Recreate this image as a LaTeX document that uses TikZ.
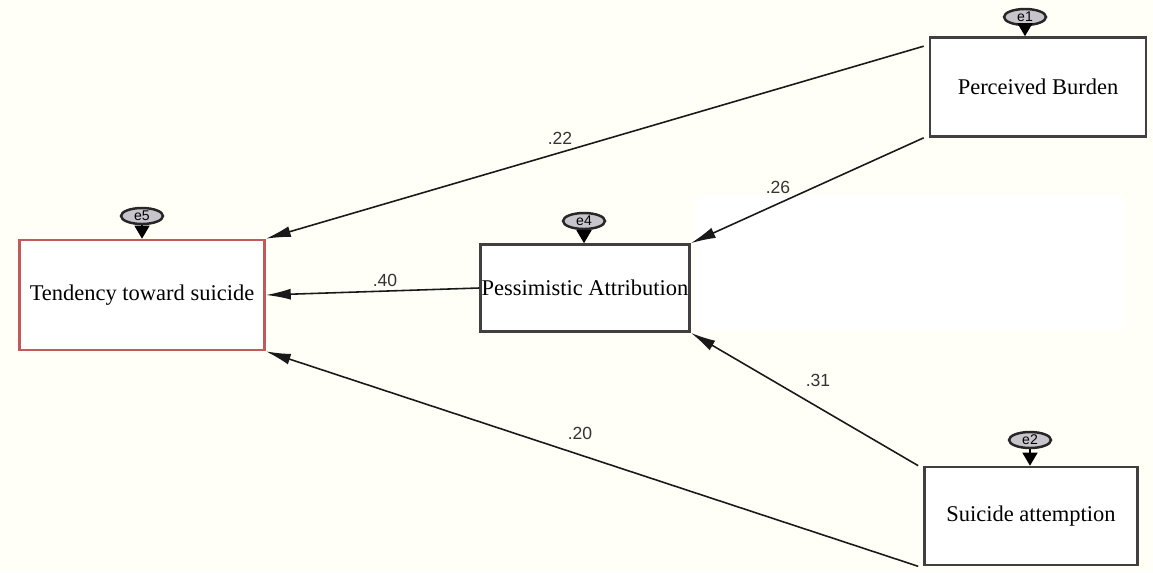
\documentclass[tikz,border=0pt]{standalone}
\usepackage{fontspec}
\setmainfont{Liberation Serif}
\newfontfamily\coeffont{Liberation Sans}
\usetikzlibrary{arrows.meta,positioning,shapes.geometric}
\definecolor{paper}{HTML}{FFFFF7}
\definecolor{errgray}{HTML}{C8C4CC}
\definecolor{outred}{HTML}{C25A5A}

\begin{document}
\begin{tikzpicture}[
  x=0.02cm, y=-0.02cm,
  var/.style={rectangle, draw=black!75, line width=1.5pt, fill=white, inner sep=0pt, font=\fontsize{12.8}{15}\selectfont},
  err/.style={ellipse, draw=black!85, line width=1.4pt, fill=errgray, minimum width=0.84cm, minimum height=0.32cm, inner sep=0pt, font=\coeffont\fontsize{8}{8}\selectfont},
  path/.style={-{Latex[length=0.5cm,width=0.22cm]}, line width=0.9pt, draw=black!90},
  errarrow/.style={-{Triangle[length=0.26cm,width=0.3cm]}, line width=0.8pt},
  coef/.style={font=\coeffont\fontsize{10}{12}\selectfont, text=black!80}
]
% background
\fill[paper] (0,0) rectangle (1153,572);
\fill[white] (695,195) rectangle (1125,330);
\useasboundingbox (0,0) rectangle (1153,572);

% observed variables
\node[var, minimum width=4.32cm, minimum height=1.98cm] (pb) at (1038,87) {Perceived Burden};
\node[var, draw=outred, minimum width=4.9cm, minimum height=2.2cm] (tend) at (142,295) {Tendency toward suicide};
\node[var, minimum width=4.18cm, minimum height=1.74cm] (pes) at (585,288) {Pessimistic Attribution};
\node[var, minimum width=4.26cm, minimum height=1.96cm] (sa) at (1031,516) {Suicide attemption};

% error terms
\node[err] (e1) at (1025,17) {e1};
\node[err] (e5) at (142,216) {e5};
\node[err] (e4) at (584,221) {e4};
\node[err] (e2) at (1030,440) {e2};

\draw[errarrow] (e1) -- (e1 |- pb.north);
\draw[errarrow] (e5) -- (e5 |- tend.north);
\draw[errarrow] (e4) -- (e4 |- pes.north);
\draw[errarrow] (e2) -- (e2 |- sa.north);

% paths
\draw[path] ([xshift=-0.1cm,yshift=-0.2cm]pb.north west) -- (tend.north east);
\draw[path] ([xshift=-0.1cm]pb.south west) -- (pes.north east);
\draw[path] (pes.west) -- (tend.east);
\draw[path] ([xshift=-0.1cm]sa.north west) -- (pes.south east);
\draw[path] ([xshift=-0.1cm]sa.south west) -- (tend.south east);

% coefficients
\node[coef] (c22) at (560,138) {.22};
\node[coef] (c26) at (778,187) {.26};
\node[coef] (c40) at (385,280) {.40};
\node[coef] (c31) at (818,380) {.31};
\node[coef] (c20) at (580,433) {.20};
\end{tikzpicture}
\end{document}
